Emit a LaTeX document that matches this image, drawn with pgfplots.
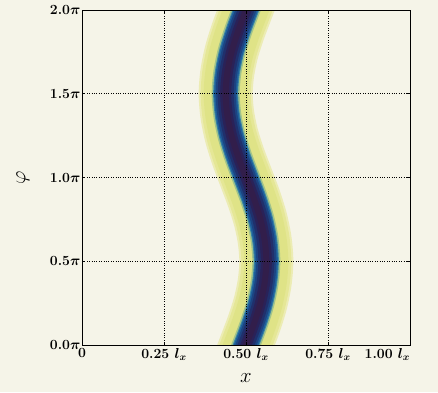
\documentclass[border=0pt]{standalone}
\usepackage{pgfplots}
\usepackage{pgfplotstable}
\pgfplotsset{compat=1.18}
\usetikzlibrary{backgrounds}
\definecolor{bgc}{RGB}{245,244,232}
\definecolor{c1}{RGB}{236,236,180}
\definecolor{c2}{RGB}{229,231,150}
\definecolor{c3}{RGB}{223,227,135}
\definecolor{c4}{RGB}{160,195,140}
\definecolor{c5}{RGB}{60,135,165}
\definecolor{c6}{RGB}{30,95,155}
\definecolor{c7}{RGB}{28,68,130}
\definecolor{c8}{RGB}{32,48,108}
\definecolor{c9}{RGB}{42,34,88}
\definecolor{c10}{RGB}{50,30,75}
\pgfplotstableread{
x y
0.476 -0.125
0.500 0.000
0.524 0.125
0.544 0.250
0.557 0.375
0.562 0.500
0.557 0.625
0.544 0.750
0.524 0.875
0.500 1.000
0.476 1.125
0.456 1.250
0.443 1.375
0.438 1.500
0.443 1.625
0.456 1.750
0.476 1.875
0.500 2.000
0.524 2.125
}\centerline
\begin{document}
\begin{tikzpicture}
\begin{axis}[
  at={(0pt,0pt)}, anchor=south west,
  scale only axis,
  width=328pt, height=335pt,
  xmin=0, xmax=1, ymin=0, ymax=2,
  axis on top,
  axis line style={line width=1pt},
  xtick={0,0.25,0.5,0.75,1},
  xticklabels={0, {0.25 $l_x$}, {0.50 $l_x$}, {0.75 $l_x$}, {\llap{1.00 $l_x$}}},
  ytick={0,0.5,1,1.5,2},
  yticklabels={{0.0$\pi$},{0.5$\pi$},{1.0$\pi$},{1.5$\pi$},{2.0$\pi$}},
  tick label style={font=\fontsize{14}{16}\selectfont\bfseries\boldmath},
  yticklabel style={xshift=2pt},
  major tick length=3pt,
  tick style={black, line width=0.6pt},
  grid=major,
  major grid style={black, dotted, line width=0.8pt},
  xlabel={$x$},
  ylabel={$\varphi$},
  every axis x label/.style={at={(axis description cs:0.5,-0.1)}, anchor=center, font=\fontsize{22}{24}\selectfont},
  every axis y label/.style={at={(axis description cs:-0.18,0.5)}, anchor=center, rotate=90, font=\fontsize{22}{24}\selectfont},
]
\addplot[c1, line width=54pt, smooth] table {\centerline};
\addplot[c2, line width=50pt, smooth] table {\centerline};
\addplot[c3, line width=44pt, smooth] table {\centerline};
\addplot[c4, line width=28pt, smooth] table {\centerline};
\addplot[c5, line width=25pt, smooth] table {\centerline};
\addplot[c6, line width=23pt, smooth] table {\centerline};
\addplot[c7, line width=20pt, smooth] table {\centerline};
\addplot[c8, line width=16pt, smooth] table {\centerline};
\addplot[c9, line width=11pt, smooth] table {\centerline};
\addplot[c10, line width=6pt, smooth] table {\centerline};
\end{axis}
\pgfresetboundingbox
\path[use as bounding box] (-82pt,-47pt) rectangle (356pt,345pt);
\begin{scope}[on background layer]
\fill[bgc] (-82pt,-47pt) rectangle (356pt,345pt);
\end{scope}
\end{tikzpicture}
\end{document}
